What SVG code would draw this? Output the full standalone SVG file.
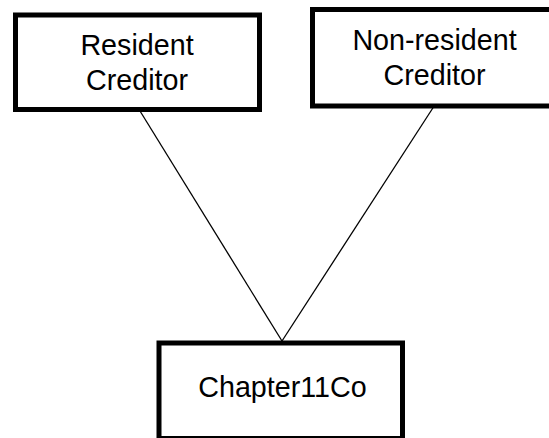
<svg xmlns="http://www.w3.org/2000/svg" width="549" height="438" viewBox="0 0 549 438">
  <style>
    .box { fill: #ffffff; stroke: #000000; stroke-width: 5; }
    .label { font-family: "Liberation Sans", Arial, sans-serif; font-size: 28.7px; fill: #000000; text-anchor: middle; }
    .link { stroke: #000000; stroke-width: 1.3; fill: none; }
  </style>
  <rect width="549" height="438" fill="#ffffff"/>
  <g id="connectors">
    <line class="link" x1="140" y1="111" x2="282" y2="341"/>
    <line class="link" x1="433.5" y1="107" x2="282" y2="341"/>
  </g>
  <g id="resident-creditor">
    <rect class="box" x="15.5" y="15" width="244" height="94.5"/>
    <text class="label" x="137" y="55">Resident</text>
    <text class="label" x="137" y="90">Creditor</text>
  </g>
  <g id="non-resident-creditor">
    <rect class="box" x="312.5" y="9.5" width="246" height="96.5"/>
    <text class="label" x="434.5" y="50">Non-resident</text>
    <text class="label" x="434.5" y="85">Creditor</text>
  </g>
  <g id="chapter11co">
    <rect class="box" x="159" y="343" width="243.5" height="95.5"/>
    <text class="label" x="282.5" y="396.5">Chapter11Co</text>
  </g>
</svg>
